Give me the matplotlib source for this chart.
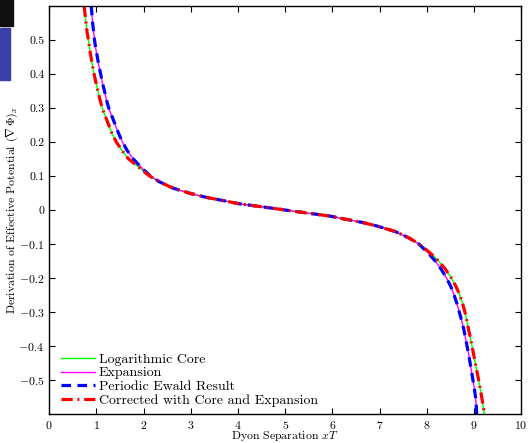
import matplotlib
matplotlib.use("Agg")
import matplotlib.pyplot as plt
from matplotlib.patches import Rectangle

plt.rcParams['font.family'] = ['cmr10', 'DejaVu Serif']
plt.rcParams['mathtext.fontset'] = 'cm'
plt.rcParams['axes.formatter.use_mathtext'] = True

# values (logarithmic core / corrected curve)
core_x = [0.74, 0.76, 0.78, 0.80, 0.83, 0.855, 0.885, 0.915, 0.95, 0.99, 1.03, 1.075,
          1.12, 1.19, 1.26, 1.33, 1.42, 1.54, 1.68, 1.90, 2.12, 2.33, 2.62, 3.00,
          3.32, 3.70, 4.02, 4.40, 4.72, 4.98, 5.24, 5.56, 5.94, 6.26, 6.64, 6.96,
          7.34, 7.63, 7.84, 8.06, 8.25, 8.40, 8.52, 8.62, 8.70, 8.76, 8.81, 8.85,
          8.885, 8.925, 8.96, 8.995, 9.03, 9.065, 9.10, 9.135, 9.165, 9.195, 9.22]
core_y = [0.600, 0.575, 0.550, 0.525, 0.500, 0.475, 0.450, 0.425, 0.400, 0.375, 0.350, 0.325,
          0.300, 0.275, 0.250, 0.225, 0.200, 0.175, 0.150, 0.125, 0.100, 0.083, 0.064, 0.048,
          0.037, 0.027, 0.018, 0.011, 0.005, 0.000, -0.005, -0.011, -0.018, -0.027, -0.037, -0.048,
          -0.064, -0.083, -0.100, -0.125, -0.150, -0.175, -0.200, -0.225, -0.250, -0.275, -0.300, -0.325,
          -0.350, -0.375, -0.400, -0.425, -0.450, -0.475, -0.500, -0.525, -0.550, -0.575, -0.600]

# periodic Ewald result / expansion
ewald_x = [0.89, 0.905, 0.92, 0.94, 0.96, 0.985, 1.02, 1.05, 1.09, 1.125, 1.17, 1.21,
           1.26, 1.33, 1.40, 1.47, 1.55, 1.65, 1.78, 1.95, 2.14, 2.33, 2.62, 3.00,
           3.32, 3.70, 4.02, 4.40, 4.72, 4.98, 5.24, 5.56, 5.94, 6.26, 6.64, 6.96,
           7.34, 7.63, 7.83, 8.02, 8.18, 8.31, 8.42, 8.51, 8.58, 8.64, 8.69, 8.74,
           8.785, 8.82, 8.855, 8.89, 8.92, 8.95, 8.98, 9.01, 9.035, 9.05, 9.06]
ewald_y = core_y[:]

xticks = [0, 1, 2, 3, 4, 5, 6, 7, 8, 9, 10]
yticks = [-0.5, -0.4, -0.3, -0.2, -0.1, 0, 0.1, 0.2, 0.3, 0.4, 0.5]
ylabels = ['$-0.5$', '$-0.4$', '$-0.3$', '$-0.2$', '$-0.1$', '0',
           '0.1', '0.2', '0.3', '0.4', '0.5']

fig = plt.figure(figsize=(5.29, 4.43), dpi=100)

# bit of a screenshot left in the corner of the original
fig.patches.append(Rectangle((0, 1 - 26 / 443), 13 / 529, 26 / 443, transform=fig.transFigure,
                             color='#101010', zorder=0))
fig.patches.append(Rectangle((0, 1 - 80 / 443), 10 / 529, 52 / 443, transform=fig.transFigure,
                             color='#3a3fa8', zorder=0))

ax = fig.add_axes([0.093, 0.0655, 0.892, 0.9215])

ax.plot(core_x, core_y, color=(0, 1, 0), lw=1.0, label='Logarithmic Core')
ax.plot(ewald_x, ewald_y, color=(1, 0, 1), lw=1.0, label='Expansion')
ax.plot(ewald_x, ewald_y, color=(0, 0, 1), lw=2.3, ls=(0, (3, 2)), label='Periodic Ewald Result')
ax.plot(core_x, core_y, color=(1, 0, 0), lw=2.3, ls=(0, (3.5, 1.5, 0.6, 1.5)),
        label='Corrected with Core and Expansion')

ax.set_xlim(0, 10)
ax.set_ylim(-0.6, 0.6)
ax.set_xticks(xticks)
ax.set_yticks(yticks)
ax.set_yticklabels(ylabels)
ax.tick_params(direction='in', top=True, right=True, labelsize=8.5, length=4, width=0.8)
for s in ax.spines.values():
    s.set_linewidth(1.0)

ax.set_xlabel('Dyon Separation $xT$', fontsize=8.5, labelpad=-1)
ax.set_ylabel(r'Derivation of Effective Potential $(\nabla\,\Phi)_x$', fontsize=8.5, labelpad=-1)

ax.legend(loc='lower left', bbox_to_anchor=(0.026, 0.017), frameon=False, fontsize=10,
          handlelength=2.45, labelspacing=0.08, borderaxespad=0, handletextpad=0.25,
          borderpad=0)

fig.savefig('out.png', dpi=100)
